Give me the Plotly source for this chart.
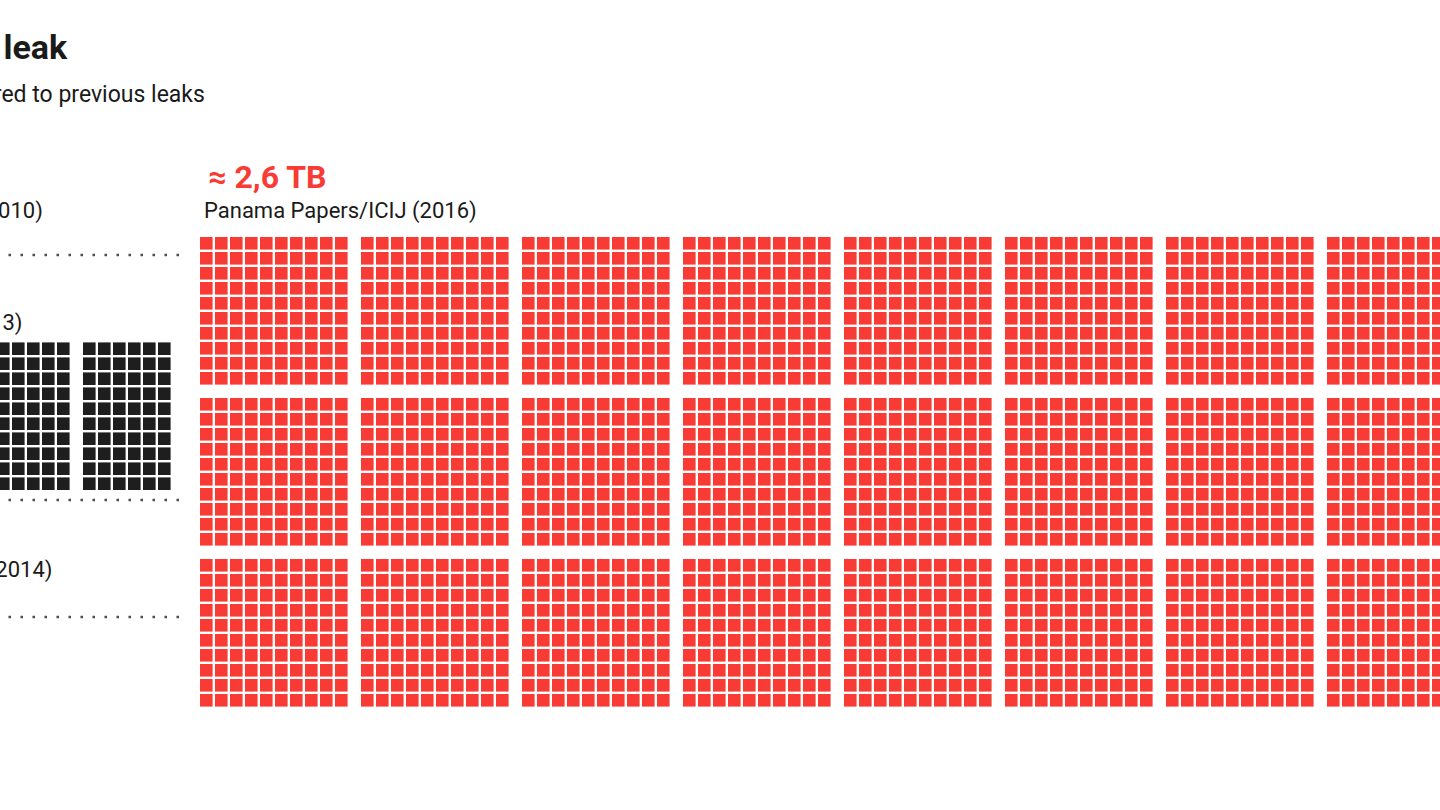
import plotly.graph_objects as go

# ---- data (GB per leak; one square = 1 GB) ----
leaks = ["Cablegate/Wikileaks (2010)", "Offshore Leaks/ICIJ (2013)", "Lux Leaks/ICIJ (2014)"]
leak_gb = [1.7, 260, 4]
leak_years = [2010, 2013, 2014]
panama_label = "Panama Papers/ICIJ (2016)"
panama_gb = 2600
panama_headline = "≈ 2,6 TB"
title_text = "The size of the leak"
subtitle_text = "Panama Papers data compared to previous leaks"

# ---- layout parameters (pixels) ----
W, H = 1440, 810
PITCH = 15          # square pitch
SQ = 12.6           # square size
BLOCK = 161         # block pitch
RED = "#f93b36"
DARK = "#1e1e1e"
TXT = "#1a1a1a"
FONT = "Roboto, sans-serif"

# left column rows: (label y, dotted line y, label right edge)
left_label_y = [211, 323, 570]
left_line_y = [255, 500, 617]
left_label_right = [45, 24, 54]
LEFT_X0 = -239


def left_squares(n, bottom):
    xs, ys = [], []
    top = bottom - (9 * PITCH + SQ)
    for k in range(int(round(n))):
        b = k // 100
        r = k % 100
        col = r // 10
        row = r % 10
        xs.append(LEFT_X0 + b * BLOCK + col * PITCH + SQ / 2)
        ys.append(top + row * PITCH + SQ / 2)
    return xs, ys


def panama_squares(n, x0=200, y0=237, block_rows=3):
    xs, ys = [], []
    for k in range(n):
        b = k // 100
        r = k % 100
        bc = b // block_rows
        br = b % block_rows
        col = r % 10
        row = r // 10
        xs.append(x0 + bc * BLOCK + col * PITCH + SQ / 2)
        ys.append(y0 + br * BLOCK + row * PITCH + SQ / 2)
    return xs, ys


fig = go.Figure()

for i, (name, gb) in enumerate(zip(leaks, leak_gb)):
    xs, ys = left_squares(gb, left_line_y[i] - 10)
    fig.add_trace(go.Scatter(
        x=xs, y=ys, mode="markers", name=name, hoverinfo="name",
        marker=dict(symbol="square", size=SQ, color=DARK, line=dict(width=0)),
    ))
    fig.add_annotation(x=left_label_right[i], y=left_label_y[i], xref="x", yref="y",
                       text=name, showarrow=False, xanchor="right", yanchor="middle",
                       font=dict(family=FONT, size=22, color=TXT))
    fig.add_shape(type="line", xref="x", yref="y",
                  x0=176.5 - 12 * 40, x1=180, y0=left_line_y[i], y1=left_line_y[i],
                  line=dict(color="#4a4a4a", width=2.5, dash="2.5px,9.5px"))

px, py = panama_squares(panama_gb)
fig.add_trace(go.Scatter(
    x=px, y=py, mode="markers", name=panama_label, hoverinfo="name",
    marker=dict(symbol="square", size=SQ, color=RED, line=dict(width=0)),
))

fig.add_annotation(x=202, y=211, xref="x", yref="y", text=panama_label, showarrow=False,
                   xanchor="left", yanchor="middle", font=dict(family=FONT, size=22, color=TXT))
fig.add_annotation(x=206, y=177, xref="x", yref="y", text="<b>" + panama_headline + "</b>",
                   showarrow=False, xanchor="left", yanchor="middle",
                   font=dict(family=FONT, size=32, color=RED))
fig.add_annotation(x=70, y=47, xref="x", yref="y", text="<b>" + title_text + "</b>",
                   showarrow=False, xanchor="right", yanchor="middle",
                   font=dict(family=FONT, size=34, color=TXT))
fig.add_annotation(x=207, y=94, xref="x", yref="y", text=subtitle_text, showarrow=False,
                   xanchor="right", yanchor="middle", font=dict(family=FONT, size=23, color=TXT))

fig.update_layout(
    width=W, height=H, margin=dict(l=0, r=0, t=0, b=0),
    paper_bgcolor="white", plot_bgcolor="white", showlegend=False,
    xaxis=dict(range=[0, W], visible=False, fixedrange=True),
    yaxis=dict(range=[H, 0], visible=False, fixedrange=True),
)
fig.write_html("out.html", config={"displayModeBar": False})
